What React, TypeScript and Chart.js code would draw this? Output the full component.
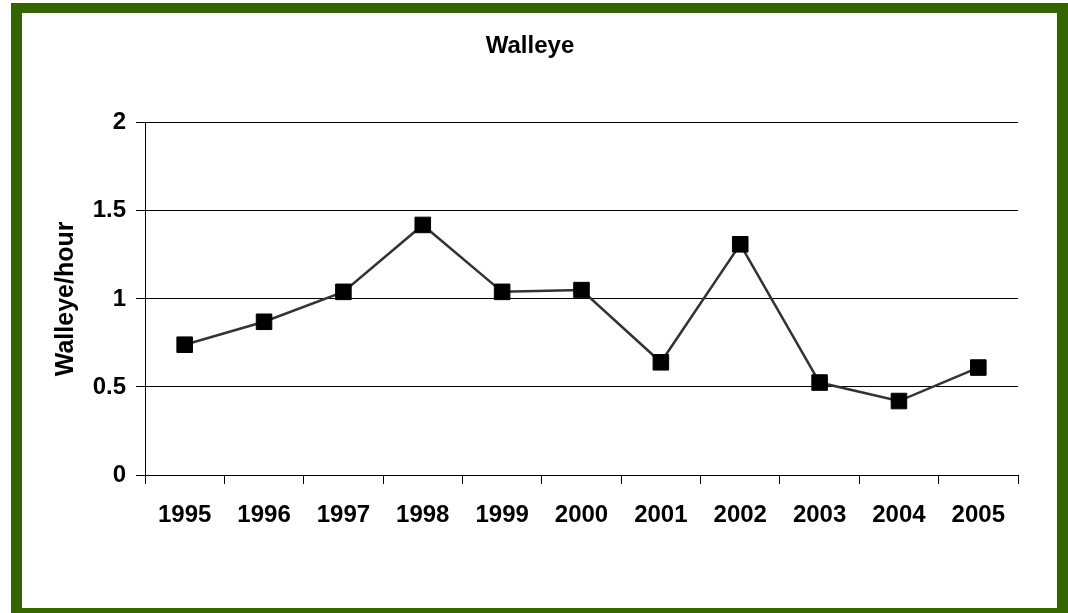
import React, { useEffect, useRef } from "react";
import { Chart, registerables } from "chart.js";

Chart.register(...registerables);

const categories = ["1995", "1996", "1997", "1998", "1999", "2000", "2001", "2002", "2003", "2004", "2005"];
const walleyePerHour = [0.74, 0.87, 1.04, 1.42, 1.04, 1.05, 0.64, 1.31, 0.525, 0.42, 0.61];
const chartTitle = "Walleye";
const yAxisTitle = "Walleye/hour";
const yMin = 0;
const yMax = 2;
const yStep = 0.5;

const FONT = "'Liberation Sans', Arial, Helvetica, sans-serif";

export default function App() {
  const canvasRef = useRef<HTMLCanvasElement | null>(null);

  useEffect(() => {
    if (!canvasRef.current) return;
    const chart = new Chart(canvasRef.current, {
      type: "line",
      data: {
        labels: categories,
        datasets: [
          {
            data: walleyePerHour,
            borderColor: "#333333",
            borderWidth: 2.5,
            pointStyle: "rect",
            pointRadius: 11,
            pointBackgroundColor: "#000000",
            pointBorderColor: "#000000",
            pointBorderWidth: 1,
            tension: 0,
          },
        ],
      },
      options: {
        animation: false,
        responsive: false,
        maintainAspectRatio: false,
        layout: { padding: { left: 42, right: 50, top: 0, bottom: 0 } },
        plugins: {
          legend: { display: false },
          tooltip: { enabled: false },
          title: {
            display: true,
            text: chartTitle,
            color: "#000000",
            font: { family: FONT, size: 24, weight: "bold" },
            padding: { top: 32, bottom: 62 },
          },
        },
        scales: {
          x: {
            offset: true,
            grid: {
              offset: true,
              drawOnChartArea: false,
              drawTicks: true,
              tickLength: 9,
              color: "#000000",
              lineWidth: 1,
            },
            border: { display: true, color: "#000000", width: 1 },
            ticks: {
              color: "#000000",
              font: { family: FONT, size: 24, weight: "bold" },
              padding: 17,
              maxRotation: 0,
              autoSkip: false,
            },
            afterFit: (scale: any) => {
              scale.height = 613 - 475;
            },
          },
          y: {
            min: yMin,
            max: yMax,
            grid: {
              color: "#000000",
              lineWidth: 1,
              drawTicks: true,
              tickLength: 9,
            },
            border: { display: true, color: "#000000", width: 1 },
            ticks: {
              stepSize: yStep,
              color: "#000000",
              font: { family: FONT, size: 24, weight: "bold" },
              padding: 10,
              callback: (v: any) => String(v),
            },
            title: {
              display: true,
              text: yAxisTitle,
              color: "#000000",
              font: { family: FONT, size: 25, weight: "bold" },
              padding: { top: 9, bottom: 0 },
            },
            afterFit: (scale: any) => {
              scale.width = 145 - 42;
            },
          },
        },
      },
    });
    return () => chart.destroy();
  }, []);

  return (
    <div
      style={{
        position: "absolute",
        left: 0,
        top: 0,
        width: 1068,
        height: 613,
        overflow: "hidden",
        background: "#ffffff",
      }}
    >
      <canvas ref={canvasRef} width={1068} height={613} style={{ position: "absolute", left: 0, top: 0 }} />
      <div
        style={{
          position: "absolute",
          left: 11,
          top: 3,
          width: 1057,
          height: 616,
          boxSizing: "border-box",
          borderStyle: "solid",
          borderColor: "#336600",
          borderWidth: "10px 11px 11px 11px",
          pointerEvents: "none",
        }}
      />
    </div>
  );
}
